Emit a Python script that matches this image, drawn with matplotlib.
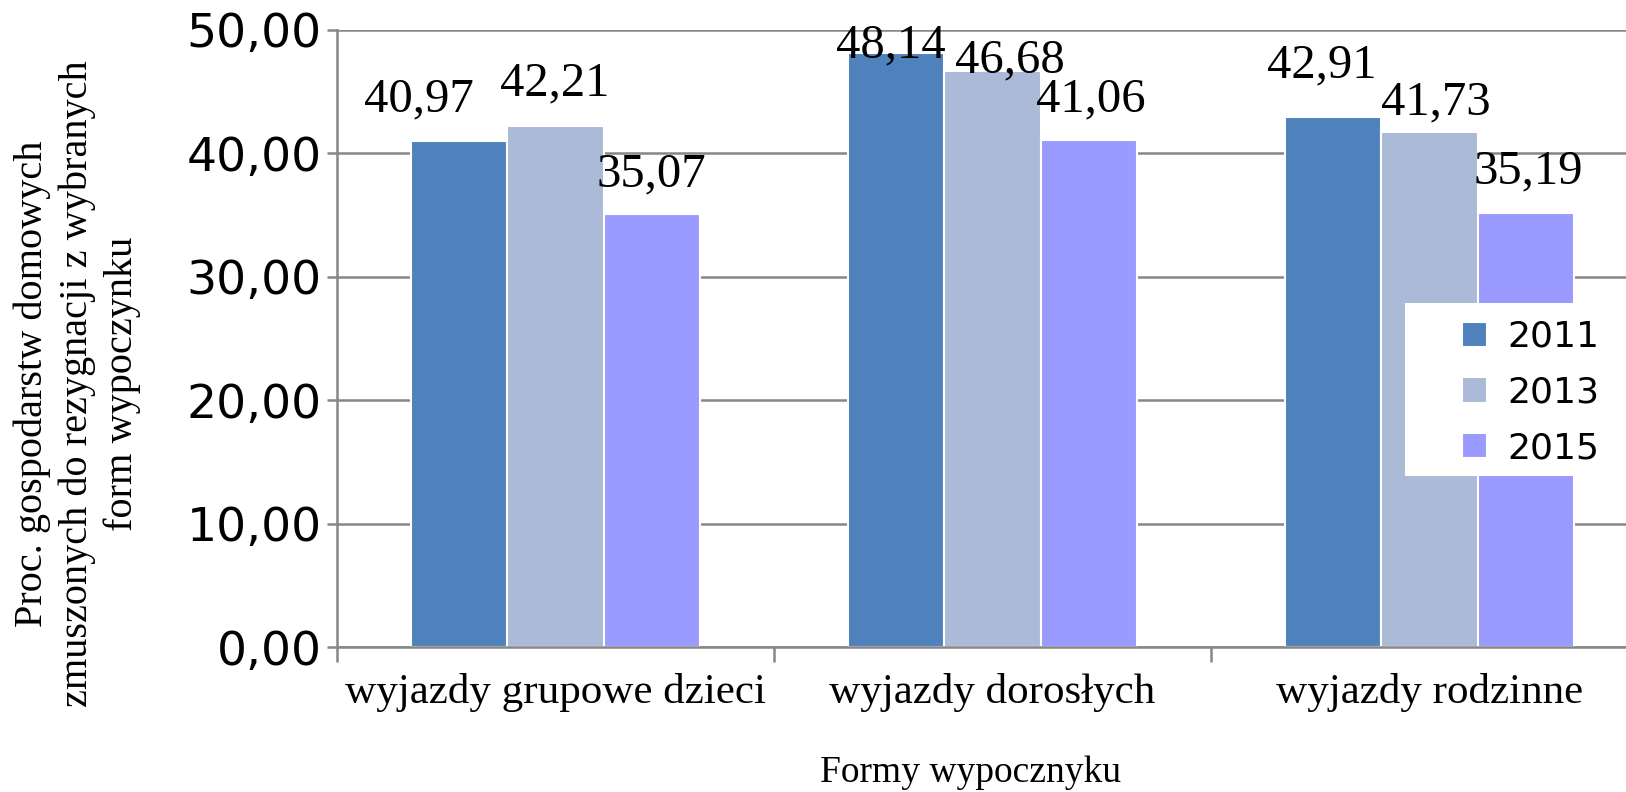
import numpy as np
import matplotlib
matplotlib.use("Agg")
from matplotlib import pyplot as plt
from matplotlib.patches import Rectangle

# dane
categories = ['wyjazdy grupowe dzieci', 'wyjazdy dorosłych', 'wyjazdy rodzinne']
years = ['2011', '2013', '2015']
v2011 = [40.97, 48.14, 42.91]
v2013 = [42.21, 46.68, 41.73]
v2015 = [35.07, 41.06, 35.19]
yticks = [0, 10, 20, 30, 40, 50]

colors = ['#4F81BD', '#AABAD7', '#9A9AFF']
# przesuniecia etykiet (dx, dy w pt), jak w oryginale
label_offsets = [
    [(-28.8, 21.6), (-0.7, 22.3), (0.0, 20.2)],
    [(-4.3, -3.6), (12.2, -1.4), (1.4, 20.9)],
    [(-8.6, 28.8), (4.3, 13.0), (2.2, 20.9)],
]

W, H = 1626, 792
fig = plt.figure(figsize=(W / 100, H / 100), dpi=100)
ax = fig.add_axes([337 / W, (H - 647) / H, 1311 / W, 617 / H])

grid_c = '#878787'
x = np.arange(len(categories))
width = 0.22
series = [v2011, v2013, v2015]
for i, vals in enumerate(series):
    bars = ax.bar(x + (i - 1) * width, vals, width, color=colors[i],
                  edgecolor='white', linewidth=1.5, label=years[i], zorder=2)
    for j, b in enumerate(bars):
        dx, dy = label_offsets[j][i]
        ax.annotate(f'{vals[j]:.2f}'.replace('.', ','),
                    (b.get_x() + b.get_width() / 2, b.get_height()),
                    xytext=(dx, dy), textcoords='offset points',
                    ha='center', va='baseline', fontsize=35,
                    family='Liberation Serif', zorder=4, annotation_clip=False)

ax.set_xlim(-0.5, 2.5)
ax.set_ylim(0, 50)
ax.set_yticks(yticks)
ax.set_yticklabels([f'{t:.2f}'.replace('.', ',') for t in yticks],
                   family='DejaVu Sans', fontsize=34)
ax.yaxis.grid(True, color=grid_c, linewidth=1.8)
ax.set_axisbelow(True)
ax.tick_params(axis='y', length=7, width=1.8, color=grid_c, pad=4)

ax.set_xticks([-0.5, 0.5, 1.5])
ax.set_xticklabels([])
ax.set_xticks(x, minor=True)
ax.set_xticklabels(categories, minor=True, family='Liberation Serif', fontsize=31)
ax.tick_params(axis='x', which='major', length=11, width=1.8, color=grid_c)
ax.tick_params(axis='x', which='minor', length=0, pad=19)

for s in ['top', 'right']:
    ax.spines[s].set_visible(False)
for s in ['left', 'bottom']:
    ax.spines[s].set_color(grid_c)
    ax.spines[s].set_linewidth(1.8)

fig.text(77 / W, 1 - 384 / H,
         'Proc. gospodarstw domowych\nzmuszonych do rezygnacji z wybranych\nform wypoczynku',
         rotation=90, ha='center', va='center', multialignment='center',
         family='Liberation Serif', fontsize=29, linespacing=1.27)
fig.text(971 / W, 1 - 773 / H, 'Formy wypocznyku', ha='center', va='center',
         family='Liberation Serif', fontsize=27)

# biale tlo legendy
fig.patches.append(Rectangle((1405 / W, 1 - 476 / H), 300 / W, 173 / H,
                             transform=fig.transFigure, facecolor='white',
                             edgecolor='none', zorder=1))
handles, labels = ax.get_legend_handles_labels()
fig.legend(handles, labels, loc='upper left',
           bbox_to_anchor=(1462 / W, 1 - 320 / H), frameon=False,
           borderpad=0, borderaxespad=0, handlelength=0.7, handleheight=0.7,
           handletextpad=0.55, labelspacing=0.6,
           prop={'family': 'DejaVu Sans', 'size': 26})

fig.savefig('out.png', dpi=100)
